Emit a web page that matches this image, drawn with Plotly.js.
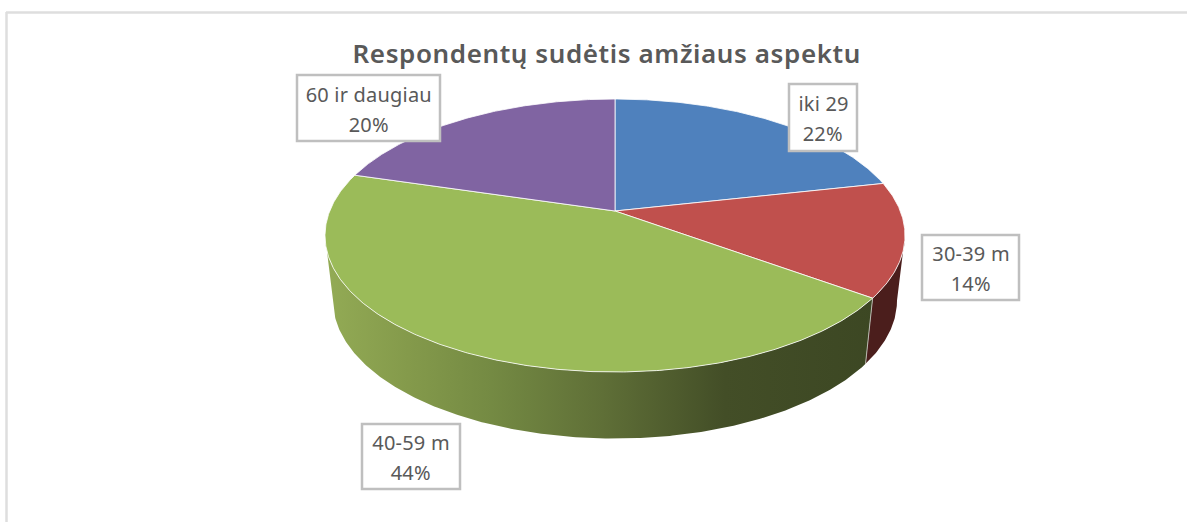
<!DOCTYPE html>
<html><head><meta charset="utf-8">
<script src="https://cdn.plot.ly/plotly-3.0.1.min.js"></script>
<style>html,body{margin:0;padding:0;background:#fff}
.annotation text{letter-spacing:.2px}
.annotation[data-index="8"] text{letter-spacing:.6px}</style></head>
<body><div id="chart" style="width:1187px;height:522px"></div>
<script>
const titleText = "Respondentų sudėtis amžiaus aspektu";
const categories = ["iki 29", "30-39 m", "40-59 m", "60 ir daugiau"];
const shares = [22, 14, 44, 20];
const faceColors = ["#4f81bd", "#c0504d", "#9bbb59", "#8064a2"];
// label box edges, in page pixels
const boxLeft = [789, 922, 362, 297];
const boxRight = [857, 1019, 460, 440];
const boxTop = [84, 235, 424, 75];
const boxBottom = [151, 300, 489, 141];

// Projection of the tilted disc
const AX = 615, AY = 211, A = 285.3, B = 132.1, K = 0.1795, VIEW = 2.1;
const TOPCY = 235.5, BOTCY = 300.5, SX = 282 / 290, SY = 138 / 136.5;
const rad = d => d * Math.PI / 180;
function topPt(deg) {
  const t = rad(deg), w = 1 + K * Math.cos(t);
  return [AX + A * Math.sin(t) / w, AY - B * Math.cos(t) / w];
}
function botPt(deg) {
  const p = topPt(deg);
  return [AX + (p[0] - AX) * SX, BOTCY + (p[1] - TOPCY) * SY];
}
function range(a, b) {
  const n = Math.max(2, Math.ceil(Math.abs(b - a) * 2)), out = [];
  for (let i = 0; i <= n; i++) out.push(a + (b - a) * i / n);
  return out;
}
const total = shares.reduce((s, v) => s + v, 0);
let running = 0;
const edges = [0];
shares.forEach(v => {
  running += v / total * 360;
  // slight angular skew of the reference's 3-D view
  edges.push(running - VIEW * (1 - Math.cos(rad(running))));
});

const SIDE_R = Math.acos(-K) * 180 / Math.PI;
const SIDE_L = 360 - SIDE_R;

function sideTrace(a, b, extra) {
  const tops = range(a, b).map(topPt), bots = range(b, a).map(botPt);
  const pts = tops.concat(bots);
  pts.push(tops[0]);
  return Object.assign({
    type: "scatter", mode: "lines", hoverinfo: "skip", showlegend: false,
    x: pts.map(p => p[0]), y: pts.map(p => p[1]), fill: "toself",
    line: {width: 0}
  }, extra);
}
const traces = [];
traces.push(sideTrace(SIDE_R, edges[2], {fillcolor: "#4b1e1c"}));
traces.push(sideTrace(edges[2], SIDE_L, {
  line: {width: 0, color: "rgba(0,0,0,0)"},
  fillgradient: {type: "horizontal", start: 325, stop: 880, colorscale: [
    [0, "#93ab55"], [0.15, "#849a4b"], [0.3, "#748a43"], [0.5, "#5f6f37"], [0.72, "#434e27"], [1, "#3c4723"]
  ]}
}));
// thin light seam at the front edge where red and green sides meet
(function () {
  const t = topPt(edges[2]), b = botPt(edges[2]);
  traces.push({type: "scatter", mode: "lines", hoverinfo: "skip", showlegend: false,
    x: [t[0], b[0]], y: [t[1], b[1]], line: {color: "#b9b9b0", width: 1}});
})();
shares.forEach((v, i) => {
  const arc = range(edges[i], edges[i + 1]).map(topPt);
  const pts = [[AX, AY]].concat(arc, [[AX, AY]]);
  traces.push({
    type: "scatter", mode: "lines", name: categories[i], showlegend: false,
    x: pts.map(p => p[0]), y: pts.map(p => p[1]),
    fill: "toself", fillcolor: faceColors[i],
    line: {color: "rgba(255,255,255,0.8)", width: 1},
    hovertext: categories[i] + " " + v + "%", hoverinfo: "text"
  });
});

const font = {family: "'Noto Sans', sans-serif", size: 20, color: "#595959"};
const shapes = [
  {type: "line", xref: "x", yref: "y", x0: 6, x1: 1187, y0: 12.5, y1: 12.5, line: {color: "#dedede", width: 2.5}, layer: "below"},
  {type: "line", xref: "x", yref: "y", x0: 6.5, x1: 6.5, y0: 12, y1: 522, line: {color: "#dedede", width: 2.5}, layer: "below"}
];
const annotations = [];
categories.forEach((c, i) => {
  shapes.push({type: "rect", xref: "x", yref: "y", x0: boxLeft[i], x1: boxRight[i], y0: boxTop[i], y1: boxBottom[i],
    fillcolor: "#ffffff", line: {color: "#bfbfbf", width: 2.5}, layer: "above"});
  const cx = (boxLeft[i] + boxRight[i]) / 2, cy = (boxTop[i] + boxBottom[i]) / 2;
  [[c, -14], [shares[i] + "%", 16]].forEach(([txt, dy]) => {
    annotations.push({xref: "x", yref: "y", x: cx, y: cy + dy, text: txt, showarrow: false,
      xanchor: "center", yanchor: "middle", font});
  });
});
annotations.push({xref: "x", yref: "y", x: 606, y: 53, text: titleText, showarrow: false,
  xanchor: "center", yanchor: "middle",
  font: {family: "'Noto Sans', sans-serif", size: 26, color: "#595959", weight: 600}});

const layout = {
  width: 1187, height: 522, margin: {l: 0, r: 0, t: 0, b: 0},
  paper_bgcolor: "#ffffff", plot_bgcolor: "#ffffff", showlegend: false,
  xaxis: {range: [0, 1187], visible: false, fixedrange: true},
  yaxis: {range: [522, 0], visible: false, fixedrange: true},
  shapes, annotations
};
Plotly.newPlot("chart", traces, layout, {displayModeBar: false, staticPlot: true});
</script></body></html>
